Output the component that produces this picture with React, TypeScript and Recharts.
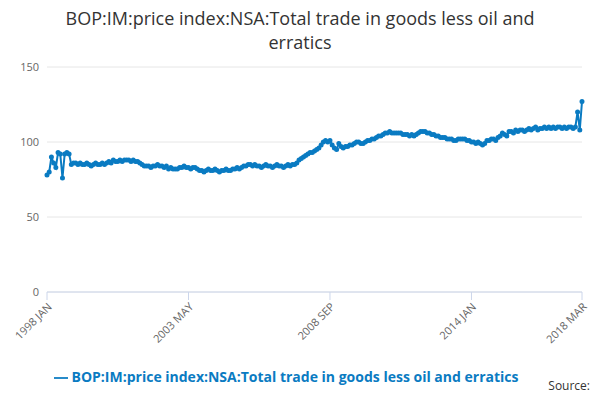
import React from 'react';
import { LineChart, Line, XAxis, YAxis, CartesianGrid, Legend } from 'recharts';

const startYear = 1998;
const months = ['JAN', 'FEB', 'MAR', 'APR', 'MAY', 'JUN', 'JUL', 'AUG', 'SEP', 'OCT', 'NOV', 'DEC'];

const values: number[] = [
  78, 80, 90, 86, 83, 93, 92, 76, 92, 93, 92, 85,
  86, 86, 85, 86, 85, 85, 86, 85, 84, 85, 86, 85,
  85, 86, 85, 86, 87, 86, 88, 87, 87, 88, 87, 88,
  88, 88, 87, 88, 87, 87, 86, 85, 84, 84, 84, 83,
  84, 84, 85, 84, 84, 83, 84, 82, 83, 82, 82, 82,
  83, 83, 84, 83, 83, 82, 83, 83, 82, 81, 81, 80,
  81, 82, 81, 81, 82, 81, 80, 81, 81, 82, 81, 81,
  82, 82, 83, 82, 83, 84, 84, 85, 85, 84, 85, 84,
  84, 83, 84, 85, 84, 84, 83, 84, 85, 84, 84, 83,
  84, 85, 84, 85, 85, 86, 88, 89, 90, 91, 92, 93,
  93, 94, 95, 96, 98, 100, 101, 100, 101, 98, 96, 95,
  99, 97, 96, 97, 97, 98, 98, 99, 100, 100, 99, 99,
  100, 101, 101, 102, 102, 103, 104, 104, 105, 106, 106, 107,
  106, 106, 106, 106, 106, 105, 105, 105, 104, 105, 104, 105,
  106, 107, 107, 107, 106, 106, 105, 105, 104, 104, 103, 103,
  103, 102, 102, 102, 101, 101, 102, 102, 102, 102, 101, 101,
  100, 100, 99, 100, 99, 98, 99, 101, 101, 102, 102, 101,
  103, 104, 106, 105, 104, 107, 107, 106, 108, 107, 108, 108,
  107, 108, 109, 108, 109, 110, 108, 109, 109, 110, 109, 110,
  109, 110, 109, 110, 110, 109, 110, 109, 110, 110, 109, 110,
  120, 108, 127,
];

const xTicks = ['1998 JAN', '2003 MAY', '2008 SEP', '2014 JAN', '2018 MAR'];
const yTicks = [0, 50, 100, 150];
const seriesName = 'BOP:IM:price index:NSA:Total trade in goods less oil and erratics';

const data = values.map((v, i) => ({
  d: `${startYear + Math.floor(i / 12)} ${months[i % 12]}`,
  v,
}));

export default function App() {
  return (
    <div style={{ position: 'relative', width: 600, height: 400, fontFamily: '"Open Sans", sans-serif', margin: -8 }}>
      <div style={{ position: 'absolute', top: 6, left: 0, width: 600, textAlign: 'center', fontSize: 18, color: '#333', lineHeight: '24px' }}>
        BOP:IM:price index:NSA:Total trade in goods less oil and<br />erratics
      </div>
      <LineChart width={600} height={400} data={data} margin={{ top: 67, right: 18, left: 0, bottom: 4 }}>
        <CartesianGrid vertical={false} stroke="#e6e6e6" />
        <XAxis
          dataKey="d"
          ticks={xTicks}
          interval={0}
          angle={-45}
          textAnchor="end"
          height={85}
          tick={{ fontSize: 11, fill: '#666' }}
          stroke="#ccd6eb"
          tickSize={8}
        />
        <YAxis
          domain={[0, 150]}
          ticks={yTicks}
          width={47}
          axisLine={false}
          tickLine={false}
          stroke="#666"
          tick={{ fontSize: 11, fill: '#666' }}
        />
        <Legend
          verticalAlign="bottom"
          iconType="plainline"
          wrapperStyle={{ fontSize: 14, fontWeight: 'bold', color: '#333', bottom: 14 }}
        />
        <Line
          dataKey="v"
          name={seriesName}
          stroke="#0a7bc2"
          strokeWidth={2}
          dot={{ r: 1.5, fill: '#0a7bc2', stroke: '#0a7bc2' }}
          isAnimationActive={false}
        />
      </LineChart>
      <div style={{ position: 'absolute', right: 10, bottom: 6, fontSize: 12, color: '#333' }}>Source:</div>
    </div>
  );
}
